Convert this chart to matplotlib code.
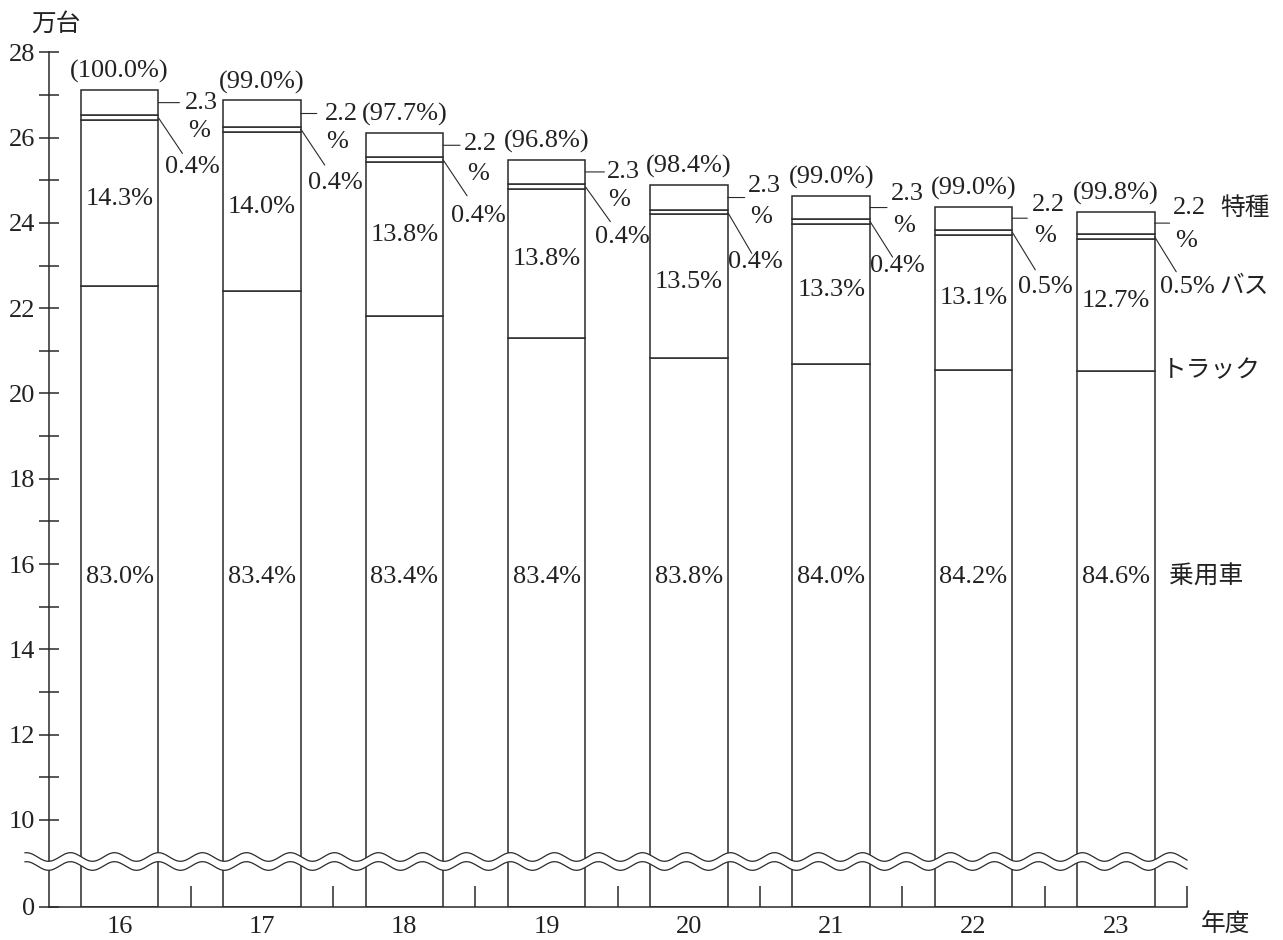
import numpy as np
import matplotlib
matplotlib.use("Agg")
import matplotlib.pyplot as plt
import matplotlib.ticker as mticker
from matplotlib.patches import Polygon
from matplotlib.transforms import blended_transform_factory

# ── data (万台) ───────────────────────────────────────────────────────────
years = ["16", "17", "18", "19", "20", "21", "22", "23"]
car = [22.53, 22.41, 21.82, 21.30, 20.84, 20.69, 20.54, 20.52]
truck = [3.88, 3.73, 3.60, 3.49, 3.36, 3.29, 3.18, 3.10]
bus = [0.11, 0.12, 0.12, 0.12, 0.10, 0.11, 0.12, 0.11]
special = [0.60, 0.61, 0.56, 0.57, 0.59, 0.54, 0.54, 0.53]

car_pct = ["83.0%", "83.4%", "83.4%", "83.4%", "83.8%", "84.0%", "84.2%", "84.6%"]
truck_pct = ["14.3%", "14.0%", "13.8%", "13.8%", "13.5%", "13.3%", "13.1%", "12.7%"]
bus_pct = ["0.4%", "0.4%", "0.4%", "0.4%", "0.4%", "0.4%", "0.5%", "0.5%"]
special_pct = ["2.3", "2.2", "2.2", "2.3", "2.3", "2.3", "2.2", "2.2"]
index_pct = ["(100.0%)", "(99.0%)", "(97.7%)", "(96.8%)",
             "(98.4%)", "(99.0%)", "(99.0%)", "(99.8%)"]

# ── layout (pixel offsets of the side notes, per bar) ─────────────────────
lead_len = [21, 16, 17, 19, 17, 17, 15, 15]
spec_dx = [43, 41, 37, 38, 37, 37, 36, 35]
spec_dy = [0, 0, 1.7, 0.3, 11.6, 13.3, 13.6, 15]
pct_dx = [41, 36, 35, 34, 33.7, 34, 33, 31]
pct_dy = [-28.3, -28, -28.3, -28, -19, -18.3, -18, -18]
bus_line = [(24, -35.7), (24, -36), (24, -36), (25, -35),
            (24, -41), (22.6, -35.7), (23, -37.6), (21.6, -35)]
bus_txt = [(34, -49.6), (35, -53.7), (35, -56.6), (37, -50.6),
           (27.7, -49.3), (27, -45), (33, -54.3), (33, -50.7)]

W, H = 1283, 940
INK = "#222222"
EDGE = "#2a2a2a"
FS = 19      # numbers
FS_JP = 17.8  # japanese labels

plt.rcParams["font.family"] = ["Liberation Serif", "Noto Sans CJK JP", "DejaVu Sans"]

# broken axis: 0..10 squeezed, 10..28 linear
B, K = 7.967, 0.2033


def fwd(v):
    v = np.asarray(v, dtype=float)
    return np.where(v < 10, v * K + B, v)


def inv(y):
    y = np.asarray(y, dtype=float)
    return np.where(y < 10, (y - B) / K, y)


fig = plt.figure(figsize=(W / 100, H / 100), dpi=100, facecolor="white")
ax = fig.add_axes([48.5 / W, 1 - 906.7 / H, (1187 - 48.5) / W, (906.7 - 52.3) / H])
ax.set_yscale("function", functions=(fwd, inv))

x = np.arange(len(years))
w = 0.545
car_a, truck_a, bus_a, spec_a = map(np.array, (car, truck, bus, special))
bars_kw = dict(width=w, color="white", edgecolor=EDGE, linewidth=1.1, zorder=2)
ax.bar(x, car_a, **bars_kw)
ax.bar(x, truck_a, bottom=car_a, **bars_kw)
ax.bar(x, bus_a, bottom=car_a + truck_a, **bars_kw)
ax.bar(x, spec_a, bottom=car_a + truck_a + bus_a, **bars_kw)
total = car_a + truck_a + bus_a + spec_a

ax.set_xlim(-0.5, 7.5)
ax.set_ylim(0, 28)

# ── axes styling ──────────────────────────────────────────────────────────
for s in ("top", "right"):
    ax.spines[s].set_visible(False)
for s in ("left", "bottom"):
    ax.spines[s].set_linewidth(1.1)
    ax.spines[s].set_color(EDGE)

ax.set_yticks([0] + list(range(10, 29, 2)))
ax.set_yticks(list(range(11, 28, 2)), minor=True)
ax.yaxis.set_minor_formatter(mticker.NullFormatter())
ax.tick_params(axis="y", which="both", direction="inout", length=14.4,
               width=1.1, color=EDGE, labelsize=FS, labelcolor=INK, pad=2.5)

ax.set_xticks(np.arange(0.5, 8, 1))
ax.xaxis.set_major_formatter(mticker.NullFormatter())
ax.set_xticks(x, minor=True)
ax.set_xticklabels(years, minor=True)
ax.tick_params(axis="x", which="major", direction="in", length=15.1,
               width=1.1, color=EDGE)
ax.tick_params(axis="x", which="minor", length=0, labelsize=FS,
               labelcolor=INK, pad=6.5)

# ── wavy break ────────────────────────────────────────────────────────────
ax_h = 906.7 - 52.3
px = np.linspace(25, 1187, 800)
xd = -0.5 + (px - 48.5) / ((1187 - 48.5) / 8)
amp = 4.3 / ax_h
phase = np.cos(2 * np.pi * (px - 48.5) / 44.0)
y_up = (906.7 - 857.0) / ax_h - amp * phase
y_lo = (906.7 - 866.0) / ax_h - amp * phase
blend = blended_transform_factory(ax.transData, ax.transAxes)
verts = np.vstack([np.column_stack([xd, y_up]), np.column_stack([xd[::-1], y_lo[::-1]])])
ax.add_patch(Polygon(verts, closed=True, facecolor="white", edgecolor="none",
                     transform=blend, zorder=5, clip_on=False))
for yy in (y_up, y_lo):
    ax.plot(xd, yy, color=EDGE, lw=0.9, transform=blend, zorder=6, clip_on=False)

# ── labels ────────────────────────────────────────────────────────────────
txt_kw = dict(ha="center", va="center", fontsize=FS, color=INK,
              textcoords="offset pixels", annotation_clip=False)
line_kw = dict(arrowstyle="-", lw=0.8, color=EDGE, shrinkA=0, shrinkB=0)

for i in range(len(years)):
    xr = x[i] + w / 2
    ax.text(x[i], 15.7, car_pct[i], ha="center", va="center", fontsize=FS, color=INK, zorder=3)
    ax.text(x[i], car[i] + truck[i] / 2 + 0.1, truck_pct[i], ha="center", va="center",
            fontsize=FS, color=INK, zorder=3)
    ax.annotate(index_pct[i], xy=(x[i], total[i]), xytext=(0, 18.5), **txt_kw)

    y_spec = total[i] - special[i] / 2
    ax.annotate("", xy=(xr, y_spec), xytext=(lead_len[i], 0),
                textcoords="offset pixels", arrowprops=line_kw)
    ax.annotate(special_pct[i], xy=(xr, y_spec), xytext=(spec_dx[i], spec_dy[i]), **txt_kw)
    ax.annotate("%", xy=(xr, y_spec), xytext=(pct_dx[i], pct_dy[i]), **txt_kw)

    y_bus = car[i] + truck[i] + bus[i] / 2
    ax.annotate("", xy=(xr, y_bus), xytext=bus_line[i],
                textcoords="offset pixels", arrowprops=line_kw)
    ax.annotate(bus_pct[i], xy=(xr, y_bus), xytext=bus_txt[i], **txt_kw)

# series names beside the last bar
last = len(years) - 1
xr = x[last] + w / 2
jp_kw = dict(txt_kw, fontsize=FS_JP)
ax.annotate("特種", xy=(xr, total[last] - special[last] / 2), xytext=(90, 15), **jp_kw)
ax.annotate("バス", xy=(xr, car[last] + truck[last] + bus[last] / 2), xytext=(90, -50.7), **jp_kw)
ax.annotate("トラック", xy=(xr, car[last]), xytext=(7.3, 0), **dict(jp_kw, ha="left"))
ax.annotate("乗用車", xy=(xr, 15.7), xytext=(14.3, 0), **dict(jp_kw, ha="left"))

fig.text(55.5 / W, 1 - 24 / H, "万台", ha="center", va="center", fontsize=FS_JP, color=INK)
fig.text(1226 / W, 1 - 925 / H, "年度", ha="center", va="center", fontsize=FS_JP, color=INK)

fig.savefig("out.png", dpi=100, facecolor="white")
